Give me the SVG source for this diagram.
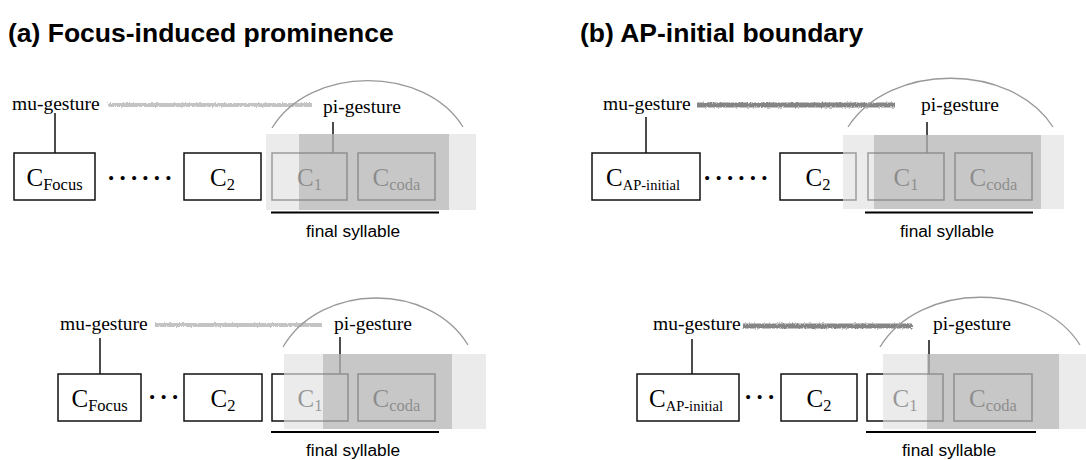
<svg xmlns="http://www.w3.org/2000/svg" width="1086" height="460" viewBox="0 0 1086 460">
  <style>
    .title { font-family: "Liberation Sans", Arial, sans-serif; font-weight: bold; font-size: 26.5px; fill: #000; }
    .serif { font-family: "Liberation Serif", "Times New Roman", serif; fill: #000; }
    .lbl { font-size: 19.5px; }
    .seg { font-size: 25px; text-anchor: middle; }
    .sub { font-size: 16.5px; }
    .sub-sm { font-size: 14.5px; }
    .dots { font-size: 25px; letter-spacing: 5.2px; font-weight: bold; }
    .sans { font-family: "Liberation Sans", Arial, sans-serif; font-size: 17.3px; fill: #000; }
    .box { fill: #fff; stroke: #111; stroke-width: 1.5; }
    .link { stroke: #111; stroke-width: 1.5; fill: none; }
    .under { stroke: #000; stroke-width: 2; }
    .arc { stroke: #999; stroke-width: 1.3; fill: none; }
    .light { fill: #e1e1e1; fill-opacity: 0.667; }
    .dark { fill: #747474; fill-opacity: 0.3; }
    .trail-a { fill: #c4c4c4; filter: url(#grain); }
    .trail-b { fill: #858585; filter: url(#grain); }
  </style>
  <defs>
    <!-- rough, crayon-like texture for the mu-gesture trail -->
    <filter id="grain" filterUnits="userSpaceOnUse" x="0" y="0" width="1086" height="460">
      <feTurbulence type="fractalNoise" baseFrequency="0.8 0.5" numOctaves="2" seed="3" result="noise"/>
      <feDisplacementMap in="SourceGraphic" in2="noise" scale="3" xChannelSelector="R" yChannelSelector="G" result="moved"/>
      <feGaussianBlur in="moved" stdDeviation="0.4"/>
    </filter>
  </defs>

  <rect width="1086" height="460" fill="#fff"/>

  <text class="title" x="8" y="42">(a) Focus-induced prominence</text>
  <text class="title" x="580" y="42">(b) AP-initial boundary</text>

  <!-- connectors: gesture-to-segment links -->
  <g id="connectors">
    <line class="link" x1="55" y1="113" x2="55" y2="153"/>
    <line class="link" x1="333" y1="122" x2="333" y2="153"/>
    <line class="link" x1="100" y1="338" x2="100" y2="374"/>
    <line class="link" x1="340" y1="337" x2="340" y2="374"/>
    <line class="link" x1="646" y1="117" x2="646" y2="153"/>
    <line class="link" x1="927" y1="122" x2="927" y2="153"/>
    <line class="link" x1="692" y1="339" x2="692" y2="374"/>
    <line class="link" x1="929" y1="340" x2="929" y2="374"/>
  </g>

  <!-- panel (a), upper row -->
  <g id="a1-mu"><text class="serif lbl" x="12" y="110">mu-gesture</text><rect class="trail-a" x="108" y="103" width="204" height="4"/></g>
  <g id="a1-pi"><text class="serif lbl" x="323" y="113">pi-gesture</text></g>
  <g id="a1-cfocus"><rect class="box" x="14" y="153" width="81" height="47"/><text class="serif seg" x="54.5" y="186">C<tspan class="sub" dy="4">Focus</tspan></text></g>
  <g id="a1-dots"><text class="serif dots" x="108" y="180">......</text></g>
  <g id="a1-c2"><rect class="box" x="184" y="153" width="77" height="47"/><text class="serif seg" x="222.5" y="186">C<tspan class="sub" dy="4">2</tspan></text></g>
  <g id="a1-c1"><rect class="box" x="272" y="153" width="75" height="47"/><text class="serif seg" x="309.5" y="186">C<tspan class="sub" dy="4">1</tspan></text></g>
  <g id="a1-ccoda"><rect class="box" x="358" y="153" width="77" height="47"/><text class="serif seg" x="396.5" y="186">C<tspan class="sub" dy="4">coda</tspan></text></g>
  <g id="a1-shade"><rect class="light" x="266" y="134" width="210" height="76"/><rect class="dark" x="299" y="134" width="150" height="76"/></g>
  <g id="a1-syllable"><line class="under" x1="271" y1="212.5" x2="439" y2="212.5"/><text class="sans" x="306" y="237">final syllable</text></g>
  <path id="a1-arc" class="arc" d="M272,128 C310,65 425,65 463,127"/>

  <!-- panel (a), lower row -->
  <g id="a2-mu"><text class="serif lbl" x="60" y="330">mu-gesture</text><rect class="trail-a" x="155" y="323" width="167" height="4"/></g>
  <g id="a2-pi"><text class="serif lbl" x="334" y="330">pi-gesture</text></g>
  <g id="a2-cfocus"><rect class="box" x="58" y="374" width="83" height="47"/><text class="serif seg" x="99.5" y="407">C<tspan class="sub" dy="4">Focus</tspan></text></g>
  <g id="a2-dots"><text class="serif dots" x="149" y="399">...</text></g>
  <g id="a2-c2"><rect class="box" x="184" y="374" width="78" height="47"/><text class="serif seg" x="223" y="407">C<tspan class="sub" dy="4">2</tspan></text></g>
  <g id="a2-c1"><rect class="box" x="272" y="374" width="76" height="47"/><text class="serif seg" x="310" y="407">C<tspan class="sub" dy="4">1</tspan></text></g>
  <g id="a2-ccoda"><rect class="box" x="358" y="374" width="77" height="47"/><text class="serif seg" x="396.5" y="407">C<tspan class="sub" dy="4">coda</tspan></text></g>
  <g id="a2-shade"><rect class="light" x="284" y="354" width="202" height="75"/><rect class="dark" x="323" y="354" width="129" height="75"/></g>
  <g id="a2-syllable"><line class="under" x1="271" y1="432" x2="439" y2="432"/><text class="sans" x="306" y="456">final syllable</text></g>
  <path id="a2-arc" class="arc" d="M283,347 C321,282 430,282 468,345"/>

  <!-- panel (b), upper row -->
  <g id="b1-mu"><text class="serif lbl" x="603" y="110">mu-gesture</text><rect class="trail-b" x="697" y="102.5" width="198" height="5"/></g>
  <g id="b1-pi"><text class="serif lbl" x="921" y="111">pi-gesture</text></g>
  <g id="b1-cap"><rect class="box" x="592" y="153" width="108" height="47"/><text class="serif seg" x="643" y="186">C<tspan class="sub-sm" dy="4">AP-initial</tspan></text></g>
  <g id="b1-dots"><text class="serif dots" x="704" y="180">......</text></g>
  <g id="b1-c2"><rect class="box" x="780" y="153" width="76" height="47"/><text class="serif seg" x="818" y="186">C<tspan class="sub" dy="4">2</tspan></text></g>
  <g id="b1-c1"><rect class="box" x="868" y="153" width="76" height="47"/><text class="serif seg" x="906" y="186">C<tspan class="sub" dy="4">1</tspan></text></g>
  <g id="b1-ccoda"><rect class="box" x="955" y="153" width="77" height="47"/><text class="serif seg" x="993.5" y="186">C<tspan class="sub" dy="4">coda</tspan></text></g>
  <g id="b1-shade"><rect class="light" x="843" y="135" width="221" height="74"/><rect class="dark" x="874" y="135" width="167" height="74"/></g>
  <g id="b1-syllable"><line class="under" x1="865" y1="212.5" x2="1033" y2="212.5"/><text class="sans" x="900" y="237">final syllable</text></g>
  <path id="b1-arc" class="arc" d="M848,127 C890,62 1011,62 1053,127"/>

  <!-- panel (b), lower row -->
  <g id="b2-mu"><text class="serif lbl" x="653" y="330">mu-gesture</text><rect class="trail-b" x="743" y="323.5" width="169" height="5"/></g>
  <g id="b2-pi"><text class="serif lbl" x="933" y="330">pi-gesture</text></g>
  <g id="b2-cap"><rect class="box" x="637" y="374" width="102" height="47"/><text class="serif seg" x="686" y="407">C<tspan class="sub-sm" dy="4">AP-initial</tspan></text></g>
  <g id="b2-dots"><text class="serif dots" x="745" y="399">...</text></g>
  <g id="b2-c2"><rect class="box" x="781" y="374" width="76" height="47"/><text class="serif seg" x="819" y="407">C<tspan class="sub" dy="4">2</tspan></text></g>
  <g id="b2-c1"><rect class="box" x="867" y="374" width="76" height="47"/><text class="serif seg" x="905" y="407">C<tspan class="sub" dy="4">1</tspan></text></g>
  <g id="b2-ccoda"><rect class="box" x="954" y="374" width="78" height="47"/><text class="serif seg" x="993" y="407">C<tspan class="sub" dy="4">coda</tspan></text></g>
  <g id="b2-shade"><rect class="light" x="883" y="354" width="203" height="75"/><rect class="dark" x="927" y="354" width="132" height="75"/></g>
  <g id="b2-syllable"><line class="under" x1="866" y1="432" x2="1036" y2="432"/><text class="sans" x="902" y="456">final syllable</text></g>
  <path id="b2-arc" class="arc" d="M880,347 C920,281 1040,281 1080,345"/>
</svg>
